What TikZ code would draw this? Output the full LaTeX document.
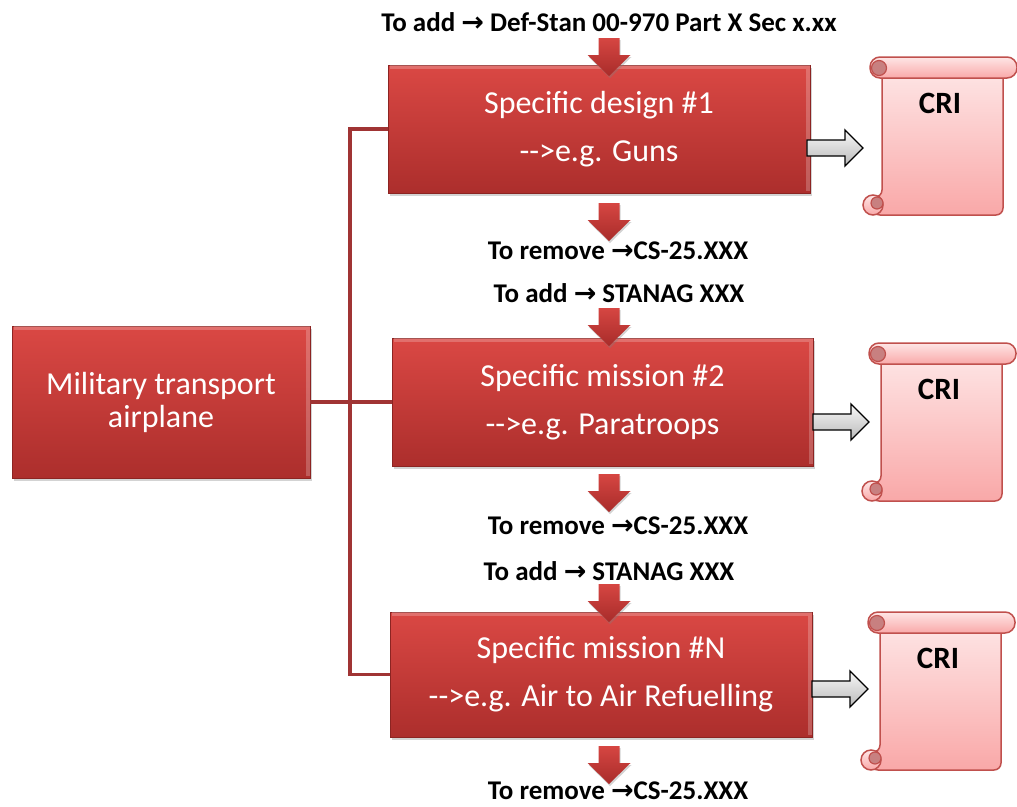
\documentclass[tikz,border=0pt]{standalone}
\usepackage{fontspec}
\setmainfont{Carlito}
\newfontfamily\arrfont{DejaVu Sans}
\usetikzlibrary{shadows}
\definecolor{boxtop}{RGB}{218,72,68}
\definecolor{boxbot}{RGB}{172,46,44}
\definecolor{boxedge}{RGB}{140,36,34}
\definecolor{arrtop}{RGB}{214,70,66}
\definecolor{arrbot}{RGB}{168,44,42}
\definecolor{conncol}{RGB}{160,52,52}
\definecolor{scrolltop}{RGB}{254,230,230}
\definecolor{scrollbot}{RGB}{249,168,168}
\definecolor{scrolledge}{RGB}{192,80,77}
\definecolor{curlfill}{RGB}{200,128,128}
\definecolor{graytop}{RGB}{248,248,248}
\definecolor{graybot}{RGB}{185,185,185}
\newcommand{\arr}{{\arrfont\bfseries →}}
\begin{document}
\begin{tikzpicture}[x=1pt,y=-1pt,
  redbox/.style={draw=boxedge, line width=0.6pt, top color=boxtop, bottom color=boxbot,
    text=white, align=center, font=\fontsize{32}{48}\selectfont, inner sep=0pt,
    drop shadow={shadow xshift=1.5pt, shadow yshift=-2.5pt, opacity=0.35}},
  bevel/.style={draw=white, opacity=0.22, line width=4pt, line join=miter},
  lbl/.style={font=\bfseries\fontsize{27}{30}\selectfont, inner sep=0pt},
  conn/.style={draw=conncol, line width=3.5pt},
  scrollshape/.style={draw=scrolledge, line width=1.5pt, top color=scrolltop, bottom color=scrollbot},
  curl/.style={draw=scrolledge, line width=1.2pt, fill=curlfill},
  downarr/.pic={\path[top color=arrtop, bottom color=arrbot,
      drop shadow={shadow xshift=1pt, shadow yshift=-2pt, opacity=0.35}]
      (-10.5,0) -- (10.5,0) -- (10.5,17) -- (21.5,17) -- (0,38) -- (-21.5,17) -- (-10.5,17) -- cycle;},
  grayarr/.pic={\draw[black, line width=1.3pt, top color=graytop, bottom color=graybot, line join=miter]
      (0,-8) -- (38,-8) -- (38,-18) -- (56,0) -- (38,18) -- (38,8) -- (0,8) -- cycle;},
  scroll/.pic={
    \draw[scrollshape, rounded corners=7] (20,10) -- (141,10) -- (141,158) -- (11,158) -- (11,140) -- (20,140) -- cycle;
    \draw[scrollshape] (11,148) circle (10);
    \draw[curl] (15,146) circle (6);
    \draw[scrollshape, rounded corners=10] (8,0) rectangle (155,21);
    \draw[curl] (17,11) circle (7.5);
    \node[font=\bfseries\fontsize{31}{34}\selectfont, inner sep=0pt] (-t) at (78,46) {CRI};
  }]
\useasboundingbox (0,0) rectangle (1017,806);

\node[redbox, minimum width=298pt, minimum height=152pt] (mil) at (161,402) {Military transport\\[-15pt]airplane};
\node[redbox, minimum width=422pt, minimum height=128pt] (b1) at (599,129) {Specific design \#1\\-\kern0pt-\kern0pt>e.g. Guns};
\node[redbox, minimum width=421pt, minimum height=128pt] (b2) at (602.5,402) {Specific mission \#2\\-\kern0pt-\kern0pt>e.g. Paratroops};
\node[redbox, minimum width=422pt, minimum height=125pt] (b3) at (601,674.5) {Specific mission \#N\\-\kern0pt-\kern0pt>e.g. Air to Air Refuelling};

\foreach \b in {mil,b1,b2,b3}{
  \draw[bevel] ([xshift=2.5pt,yshift=-2.5pt]\b.north west) -- ([xshift=-2.5pt,yshift=-2.5pt]\b.north east) -- ([xshift=-2.5pt,yshift=2.5pt]\b.south east);
}

\coordinate (jt) at (350,129);
\coordinate (jb) at (350,674.5);
\draw[conn] (b1.west) -- (jt) -- (jb) -- (b3.west);
\draw[conn] (mil.east) -- (b2.west);

\node[lbl] (l0) at (609,22) {To add \arr{} Def-Stan 00-970 Part X Sec x.xx};
\node[lbl] (l1) at (618,251) {To remove \arr CS-25.XXX};
\node[lbl] (l2) at (619,293) {To add \arr{} STANAG XXX};
\node[lbl] (l3) at (618,526) {To remove \arr CS-25.XXX};
\node[lbl] (l4) at (609,571) {To add \arr{} STANAG XXX};
\node[lbl] (l5) at (618,791) {To remove \arr CS-25.XXX};

\pic at (609,38) {downarr};
\pic at (609,203) {downarr};
\pic at (609,308) {downarr};
\pic at (609,474) {downarr};
\pic at (609,584) {downarr};
\pic at (609,746) {downarr};

\pic at (807,148) {grayarr};
\pic at (813,422) {grayarr};
\pic at (812,689) {grayarr};

\pic (s1) at (862,57) {scroll};
\pic (s2) at (861,343) {scroll};
\pic (s3) at (860,612) {scroll};
\end{tikzpicture}
\end{document}
